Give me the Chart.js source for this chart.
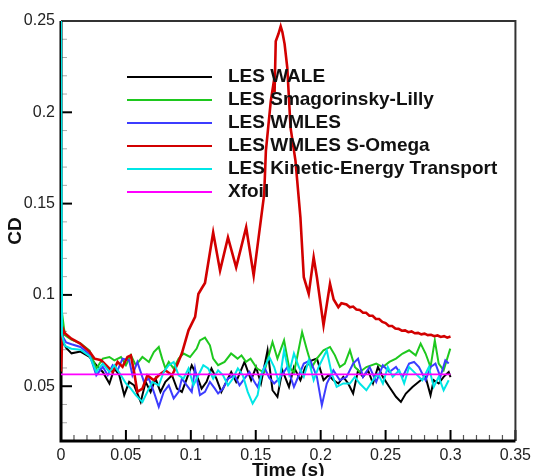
<!DOCTYPE html>
<html>
<head>
<meta charset="utf-8">
<script src="https://cdn.jsdelivr.net/npm/chart.js@4.4.0/dist/chart.umd.min.js"></script>
<style>
	html, body { margin: 0; padding: 0; background: #fff; }
	canvas { display: block; }
</style>
</head>
<body>
<canvas id="cdChart" width="536" height="476"></canvas>
<script>
/* labels, colours and tick values */
const seriesNames = [
	"LES WALE",
	"LES Smagorinsky-Lilly",
	"LES WMLES",
	"LES WMLES S-Omega",
	"LES Kinetic-Energy Transport",
	"Xfoil"
];
const seriesColors = ["#000000", "#1ec81e", "#3c3cff", "#d20000", "#00e6e6", "#ff00ff"];
const xTicks = [0, 0.05, 0.1, 0.15, 0.2, 0.25, 0.3, 0.35];
const yTicks = [0.05, 0.1, 0.15, 0.2, 0.25];

/* LES WALE */
const waleTime = [0, 0.0015, 0.004, 0.0081, 0.015, 0.022, 0.0272, 0.0322, 0.0373, 0.0411, 0.0449, 0.0487, 0.0525, 0.0563, 0.0614, 0.0652, 0.069, 0.0728, 0.0766, 0.0804, 0.0855, 0.0893, 0.0931, 0.0969, 0.1007, 0.1045, 0.1083, 0.1121, 0.1159, 0.1197, 0.1235, 0.1273, 0.1311, 0.1349, 0.1413, 0.1464, 0.1502, 0.154, 0.1591, 0.1629, 0.1667, 0.1705, 0.1756, 0.1794, 0.1844, 0.1882, 0.1933, 0.1971, 0.2022, 0.206, 0.2098, 0.2136, 0.2174, 0.2212, 0.225, 0.2288, 0.2326, 0.2365, 0.2403, 0.2441, 0.2479, 0.2529, 0.258, 0.2618, 0.2656, 0.2707, 0.277, 0.2808, 0.2846, 0.2871, 0.2909, 0.2947, 0.2986, 0.3];
const waleCd = [0.088, 0.074, 0.071, 0.068, 0.069, 0.066, 0.0615, 0.0578, 0.0515, 0.0597, 0.056, 0.0451, 0.0524, 0.0505, 0.0414, 0.0524, 0.0469, 0.0542, 0.0469, 0.0524, 0.056, 0.0487, 0.0469, 0.0542, 0.0615, 0.056, 0.0487, 0.0524, 0.0597, 0.0542, 0.0469, 0.0524, 0.0578, 0.0524, 0.0633, 0.0533, 0.0605, 0.0515, 0.0697, 0.0478, 0.0442, 0.0587, 0.0496, 0.0605, 0.0533, 0.0605, 0.0642, 0.0651, 0.0533, 0.056, 0.0533, 0.0515, 0.0551, 0.0515, 0.046, 0.0587, 0.0551, 0.0587, 0.0515, 0.0605, 0.0551, 0.0496, 0.0442, 0.0414, 0.046, 0.0496, 0.0533, 0.0551, 0.0451, 0.0533, 0.0515, 0.0551, 0.0578, 0.055];

/* LES Smagorinsky-Lilly */
const smagTime = [0, 0.0008, 0.003, 0.008, 0.015, 0.022, 0.0272, 0.0322, 0.0373, 0.0411, 0.0462, 0.05, 0.0538, 0.0576, 0.0627, 0.0677, 0.0715, 0.0753, 0.0779, 0.0804, 0.083, 0.0868, 0.0906, 0.0944, 0.0994, 0.1045, 0.107, 0.1109, 0.1147, 0.1172, 0.121, 0.126, 0.131, 0.136, 0.139, 0.1425, 0.146, 0.151, 0.1565, 0.1604, 0.1629, 0.1667, 0.1718, 0.1756, 0.1794, 0.1819, 0.1857, 0.1895, 0.1933, 0.1971, 0.2022, 0.2072, 0.211, 0.2148, 0.2186, 0.2225, 0.2263, 0.2301, 0.2352, 0.2428, 0.2479, 0.2529, 0.258, 0.2631, 0.2681, 0.2732, 0.277, 0.2808, 0.2846, 0.2879, 0.2909, 0.2947, 0.2998];
const smagCd = [0.112, 0.09, 0.078, 0.0755, 0.0735, 0.0695, 0.0597, 0.0651, 0.066, 0.0642, 0.066, 0.0615, 0.0669, 0.0615, 0.066, 0.0633, 0.0687, 0.0715, 0.0651, 0.0597, 0.0633, 0.0597, 0.0651, 0.0679, 0.066, 0.0706, 0.0751, 0.0766, 0.0724, 0.0651, 0.0615, 0.0633, 0.0679, 0.0651, 0.0669, 0.0633, 0.0651, 0.0597, 0.0575, 0.0679, 0.0742, 0.0651, 0.0751, 0.0605, 0.0575, 0.066, 0.0796, 0.0697, 0.0605, 0.0651, 0.0697, 0.0715, 0.0669, 0.0605, 0.0624, 0.0697, 0.0605, 0.0578, 0.0605, 0.0624, 0.0605, 0.0633, 0.0651, 0.0679, 0.0697, 0.0669, 0.0733, 0.0679, 0.0605, 0.0751, 0.0624, 0.0587, 0.0706];

/* LES WMLES */
const wmlesTime = [0, 0.0015, 0.004, 0.0081, 0.015, 0.022, 0.0272, 0.0322, 0.036, 0.0398, 0.0436, 0.0474, 0.0525, 0.055, 0.0588, 0.0639, 0.0677, 0.0715, 0.0753, 0.0791, 0.083, 0.0868, 0.0906, 0.0931, 0.0969, 0.1007, 0.1032, 0.107, 0.1109, 0.1147, 0.1185, 0.121, 0.1248, 0.1286, 0.1337, 0.1375, 0.1413, 0.1451, 0.1489, 0.1514, 0.1565, 0.1604, 0.1642, 0.1692, 0.1743, 0.1794, 0.1832, 0.187, 0.192, 0.1971, 0.2009, 0.2047, 0.2098, 0.2148, 0.2199, 0.225, 0.2288, 0.2326, 0.2377, 0.2428, 0.2479, 0.2529, 0.258, 0.2631, 0.2681, 0.2719, 0.2757, 0.2808, 0.2846, 0.2884, 0.2922, 0.296, 0.2986];
const wmlesCd = [0.09, 0.077, 0.074, 0.073, 0.0715, 0.0675, 0.056, 0.0606, 0.056, 0.0615, 0.0587, 0.0651, 0.0642, 0.056, 0.0633, 0.0524, 0.0542, 0.0469, 0.0387, 0.0469, 0.0505, 0.0433, 0.0469, 0.0542, 0.0505, 0.0469, 0.0597, 0.0451, 0.0469, 0.0524, 0.0487, 0.046, 0.0487, 0.0542, 0.056, 0.0505, 0.0542, 0.0578, 0.0524, 0.0496, 0.0605, 0.0545, 0.0515, 0.0551, 0.0605, 0.0496, 0.056, 0.0624, 0.0642, 0.0551, 0.0396, 0.0515, 0.0587, 0.0533, 0.0551, 0.0624, 0.0651, 0.0551, 0.0605, 0.0524, 0.0615, 0.0578, 0.0605, 0.0551, 0.0624, 0.0633, 0.0605, 0.0533, 0.0605, 0.0624, 0.0551, 0.0642, 0.0624];

/* LES WMLES S-Omega */
const somegaTime = [0, 0.0012, 0.003, 0.008, 0.0145, 0.0221, 0.0259, 0.0309, 0.0347, 0.0398, 0.0436, 0.0474, 0.0512, 0.0538, 0.0563, 0.0588, 0.0627, 0.0665, 0.0715, 0.0753, 0.0804, 0.0855, 0.0893, 0.0931, 0.0982, 0.1033, 0.1058, 0.1083, 0.1109, 0.1172, 0.1225, 0.1286, 0.1349, 0.1426, 0.1484, 0.1565, 0.1578, 0.1616, 0.1635, 0.1645, 0.1654, 0.1675, 0.1692, 0.1705, 0.1722, 0.1743, 0.1768, 0.1806, 0.1844, 0.187, 0.1908, 0.1946, 0.1971, 0.2022, 0.2072, 0.21, 0.2136, 0.216, 0.2199, 0.2225, 0.225, 0.2275, 0.23, 0.2326, 0.235, 0.2375, 0.24, 0.2425, 0.245, 0.2475, 0.25, 0.2525, 0.255, 0.2575, 0.26, 0.2625, 0.265, 0.2675, 0.27, 0.2725, 0.275, 0.2775, 0.28, 0.2825, 0.285, 0.2875, 0.29, 0.2925, 0.295, 0.2975, 0.3];
const somegaCd = [0.058, 0.082, 0.079, 0.076, 0.0735, 0.0688, 0.0651, 0.0642, 0.0615, 0.0578, 0.0633, 0.0606, 0.066, 0.0669, 0.0578, 0.0469, 0.0487, 0.056, 0.0533, 0.056, 0.0587, 0.056, 0.0615, 0.068, 0.0806, 0.088, 0.1005, 0.1035, 0.1065, 0.1342, 0.1133, 0.1315, 0.1151, 0.137, 0.1106, 0.1552, 0.1789, 0.2062, 0.215, 0.211, 0.2389, 0.243, 0.2471, 0.244, 0.2375, 0.2243, 0.1916, 0.1734, 0.1424, 0.1097, 0.1006, 0.1206, 0.1097, 0.0833, 0.1061, 0.0975, 0.0933, 0.0955, 0.0948, 0.0932, 0.0936, 0.0920, 0.0918, 0.0902, 0.0902, 0.0886, 0.0886, 0.0868, 0.0868, 0.0852, 0.0846, 0.0830, 0.0830, 0.0816, 0.0814, 0.0804, 0.0806, 0.0796, 0.0800, 0.0790, 0.0792, 0.0784, 0.0788, 0.0780, 0.0782, 0.0774, 0.0778, 0.0770, 0.0774, 0.0766, 0.0772];

/* LES Kinetic-Energy Transport */
const ketTime = [0, 0.0008, 0.003, 0.008, 0.015, 0.022, 0.0272, 0.0322, 0.0373, 0.0411, 0.0462, 0.05, 0.0538, 0.0576, 0.0627, 0.0665, 0.0703, 0.0753, 0.0791, 0.083, 0.0868, 0.0906, 0.0944, 0.0982, 0.102, 0.1058, 0.1096, 0.1134, 0.1172, 0.121, 0.1248, 0.1286, 0.1324, 0.1362, 0.14, 0.1438, 0.1476, 0.1514, 0.1545, 0.1604, 0.1642, 0.168, 0.1718, 0.1756, 0.1794, 0.1832, 0.187, 0.1908, 0.1946, 0.1984, 0.2047, 0.2085, 0.2123, 0.2174, 0.2225, 0.2263, 0.2301, 0.2352, 0.2403, 0.2441, 0.2479, 0.2517, 0.2555, 0.2605, 0.2643, 0.2681, 0.2732, 0.2783, 0.2833, 0.2871, 0.2909, 0.2947, 0.2986];
const ketCd = [0.27, 0.078, 0.072, 0.0705, 0.070, 0.0665, 0.0578, 0.0624, 0.0578, 0.0615, 0.056, 0.0515, 0.0487, 0.0451, 0.0414, 0.0469, 0.0524, 0.0505, 0.0578, 0.0615, 0.0633, 0.056, 0.0542, 0.0597, 0.0505, 0.056, 0.0615, 0.0597, 0.0542, 0.0587, 0.056, 0.0505, 0.0542, 0.0597, 0.056, 0.0469, 0.0405, 0.0451, 0.0569, 0.066, 0.0605, 0.0515, 0.0697, 0.0569, 0.0679, 0.0605, 0.0551, 0.0642, 0.0533, 0.0605, 0.0697, 0.0569, 0.0496, 0.0515, 0.0515, 0.0551, 0.0515, 0.0478, 0.0533, 0.0569, 0.0515, 0.0605, 0.0551, 0.0587, 0.0515, 0.0605, 0.0569, 0.0533, 0.0605, 0.0496, 0.0551, 0.0478, 0.0533];

/* Xfoil */
const xfoilTime = [0, 0.3];
const xfoilCd = [0.0565, 0.0565];

const times = [waleTime, smagTime, wmlesTime, somegaTime, ketTime, xfoilTime];
const values = [waleCd, smagCd, wmlesCd, somegaCd, ketCd, xfoilCd];

const fontFamily = "'Liberation Sans', Arial, sans-serif";

/*frame, inward ticks, legend and axis titles*/
const tecplotLook = {
	id: "tecplotLook",
	beforeDatasetsDraw(chart) {
		const { ctx, chartArea: a, scales: { x, y } } = chart;
		ctx.save();
		/*minor ticks every 0.01*/
		for (let i = 1; i < 35; i++) {
			if (i % 5 === 0) continue;
			const px = x.getPixelForValue(i / 100);
			ctx.strokeStyle = "#555";
			ctx.lineWidth = 1.2;
			ctx.beginPath();
			ctx.moveTo(px, a.bottom);
			ctx.lineTo(px, a.bottom - 6);
			ctx.stroke();
		}
		for (let i = 3; i < 25; i++) {
			if (i % 5 === 0) continue;
			const py = y.getPixelForValue(i / 100);
			ctx.strokeStyle = "#aaa";
			ctx.lineWidth = 1;
			ctx.beginPath();
			ctx.moveTo(a.left, py);
			ctx.lineTo(a.left + 6, py);
			ctx.stroke();
		}
		/*major ticks*/
		ctx.strokeStyle = "#000";
		ctx.lineWidth = 2;
		xTicks.forEach(v => {
			const px = x.getPixelForValue(v);
			ctx.beginPath();
			ctx.moveTo(px, a.bottom);
			ctx.lineTo(px, a.bottom - 11);
			ctx.stroke();
		});
		yTicks.forEach(v => {
			const py = y.getPixelForValue(v);
			ctx.beginPath();
			ctx.moveTo(a.left, py);
			ctx.lineTo(a.left + 11, py);
			ctx.stroke();
		});
		/*box*/
		ctx.strokeStyle = "#333";
		ctx.lineWidth = 2;
		ctx.beginPath();
		ctx.moveTo(a.left, a.top);
		ctx.lineTo(a.right, a.top);
		ctx.lineTo(a.right, a.bottom);
		ctx.stroke();
		ctx.strokeStyle = "#000";
		ctx.lineWidth = 3;
		ctx.beginPath();
		ctx.moveTo(a.left, a.top);
		ctx.lineTo(a.left, a.bottom);
		ctx.lineTo(a.right, a.bottom);
		ctx.stroke();
		ctx.restore();
	},
	afterDraw(chart) {
		const { ctx, chartArea: a } = chart;
		ctx.save();
		/*legend*/
		ctx.font = `bold 19px ${fontFamily}`;
		ctx.textBaseline = "middle";
		ctx.textAlign = "left";
		chart.data.datasets.forEach((ds, i) => {
			const ly = a.top + 56 + i * 23;
			ctx.strokeStyle = ds.borderColor;
			ctx.lineWidth = 2;
			ctx.beginPath();
			ctx.moveTo(a.left + 66, ly);
			ctx.lineTo(a.left + 151, ly);
			ctx.stroke();
			ctx.fillStyle = "#111";
			ctx.fillText(ds.label, a.left + 167, ly);
		});
		/*axis titles*/
		ctx.font = `bold 19px ${fontFamily}`;
		ctx.textAlign = "center";
		ctx.textBaseline = "alphabetic";
		ctx.fillText("Time (s)", (a.left + a.right) / 2, 476);
		ctx.translate(21, (a.top + a.bottom) / 2);
		ctx.rotate(-Math.PI / 2);
		ctx.fillText("CD", 0, 0);
		ctx.restore();
	}
};

const datasets = seriesNames.map((name, i) => ({
	label: name,
	data: times[i].map((t, j) => ({ x: t, y: values[i][j] })),
	borderColor: seriesColors[i],
	borderWidth: i === 5 ? 1.8 : (i === 3 ? 2.6 : 2),
	pointRadius: 0,
	tension: 0,
	fill: false,
	order: 6 - i
}));

const tickLabel = value => String(Number(value.toFixed(2)));

new Chart(document.getElementById("cdChart"), {
	type: "line",
	data: { datasets },
	plugins: [tecplotLook],
	options: {
		responsive: false,
		animation: false,
		devicePixelRatio: 1,
		layout: { padding: { left: 0, right: 16, top: 21, bottom: 0 } },
		plugins: { legend: { display: false }, tooltip: { enabled: false } },
		scales: {
			x: {
				type: "linear",
				min: 0,
				max: 0.35,
				afterFit: scale => { scale.height = 35; },
				afterBuildTicks: scale => { scale.ticks = xTicks.map(value => ({ value })); },
				grid: { display: false, drawTicks: false },
				border: { display: false },
				ticks: {
					padding: 5,
					color: "#222",
					font: { family: fontFamily, size: 16 },
					maxRotation: 0,
					callback: tickLabel
				}
			},
			y: {
				type: "linear",
				min: 0.02,
				max: 0.25,
				afterFit: scale => { scale.width = 61; },
				afterBuildTicks: scale => { scale.ticks = yTicks.map(value => ({ value })); },
				grid: { display: false, drawTicks: false },
				border: { display: false },
				ticks: {
					padding: 6,
					color: "#222",
					font: { family: fontFamily, size: 16 },
					callback: tickLabel
				}
			}
		}
	}
});
</script>
</body>
</html>
